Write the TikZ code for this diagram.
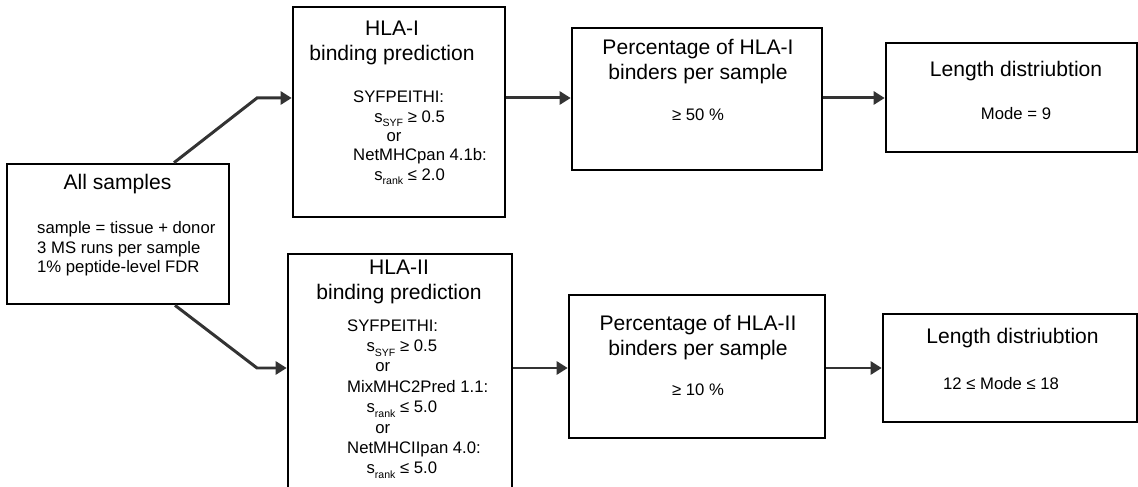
\documentclass[tikz,border=0pt]{standalone}
\usepackage{fontspec}
\setmainfont{Liberation Sans}
\usetikzlibrary{arrows.meta,positioning}

\newcommand{\lowsub}[1]{\raisebox{-2.6pt}{\fontsize{6}{6}\selectfont #1}}

\begin{document}
\begin{tikzpicture}[
  box/.style={draw=black,line width=1.5pt,inner sep=0pt},
  ttl/.style={align=center,font=\fontsize{12}{14.6}\selectfont},
  txt/.style={align=center,font=\fontsize{9.5}{11}\selectfont},
  ltxt/.style={align=left,anchor=west,font=\fontsize{9.5}{11}\selectfont},
  arr/.style={-{Triangle[length=2.2mm,width=2.6mm]},line width=1.7pt,draw=black!80}
]
\useasboundingbox (0,0) rectangle (22.76,-9.74);

% ---- boxes ----
\node[box,minimum width=4.44cm,minimum height=2.80cm] (all)   at (2.36,-4.68) {};
\node[box,minimum width=4.24cm,minimum height=4.20cm] (hlaI)  at (7.98,-2.24) {};
\node[box,minimum width=4.48cm,minimum height=4.72cm] (hlaII) at (8.00,-7.44) {};
\node[box,minimum width=5.00cm,minimum height=2.84cm] (pctI)  at (13.94,-1.98) {};
\node[box,minimum width=5.12cm,minimum height=2.86cm] (pctII) at (13.94,-7.33) {};
\node[box,minimum width=5.02cm,minimum height=2.18cm] (lenI)  at (20.23,-1.95) {};
\node[box,minimum width=5.08cm,minimum height=2.16cm] (lenII) at (20.20,-7.36) {};

% ---- texts ----
\node[ttl] (allttl) at (2.35,-3.68) {All samples};
\node[ltxt] (alltxt) at (0.62,-4.98)
  {sample = tissue + donor\\ 3 MS runs per sample\\ 1\% peptide-level FDR};

\node[ttl] (hlaIttl) at (7.84,-0.86) {HLA-I\\ binding prediction};
\node[ltxt] (hlaItxt) at (6.94,-2.76)
  {SYFPEITHI:\\
   \hspace*{12pt}s\lowsub{SYF} ≥ 0.5\\
   \hspace*{19pt}or\\
   NetMHCpan 4.1b:\\
   \hspace*{12pt}s\lowsub{rank} ≤ 2.0};

\node[ttl] (hlaIIttl) at (7.98,-5.64) {HLA-II\\ binding prediction};
\node[ltxt,font=\fontsize{9.5}{11.6}\selectfont] (hlaIItxt) at (6.82,-7.98)
  {SYFPEITHI:\\
   \hspace*{11pt}s\lowsub{SYF} ≥ 0.5\\
   \hspace*{16pt}or\\
   MixMHC2Pred 1.1:\\
   \hspace*{11pt}s\lowsub{rank} ≤ 5.0\\
   \hspace*{16pt}or\\
   NetMHCIIpan 4.0:\\
   \hspace*{11pt}s\lowsub{rank} ≤ 5.0};

\node[ttl] (pctIttl) at (13.96,-1.23) {Percentage of HLA-I\\ binders per sample};
\node[txt] (pctItxt) at (13.96,-2.30) {≥ 50 \%};

\node[ttl] (pctIIttl) at (13.96,-6.75) {Percentage of HLA-II\\ binders per sample};
\node[txt] (pctIItxt) at (13.96,-7.80) {≥ 10 \%};

\node[ttl] (lenIttl) at (20.32,-1.42) {Length distriubtion};
\node[txt] (lenItxt) at (20.32,-2.27) {Mode = 9};

\node[ttl] (lenIIttl) at (20.25,-6.76) {Length distriubtion};
\node[txt] (lenIItxt) at (20.02,-7.67) {12 ≤ Mode ≤ 18};

% ---- connectors ----
\coordinate (bendI)  at (5.14,-1.96);
\coordinate (bendII) at (5.14,-7.36);

\draw[arr] ([xshift=1.12cm]all.north) -- (bendI) -- (bendI -| hlaI.west);
\draw[arr] ([xshift=1.14cm]all.south) -- (bendII) -- (bendII -| hlaII.west);

\draw[arr] (bendI -| hlaI.east) -- (bendI -| pctI.west);
\draw[arr] (bendI -| pctI.east) -- (bendI -| lenI.west);
\draw[arr] (bendII -| hlaII.east) -- (bendII -| pctII.west);
\draw[arr] (bendII -| pctII.east) -- (bendII -| lenII.west);

\end{tikzpicture}
\end{document}
